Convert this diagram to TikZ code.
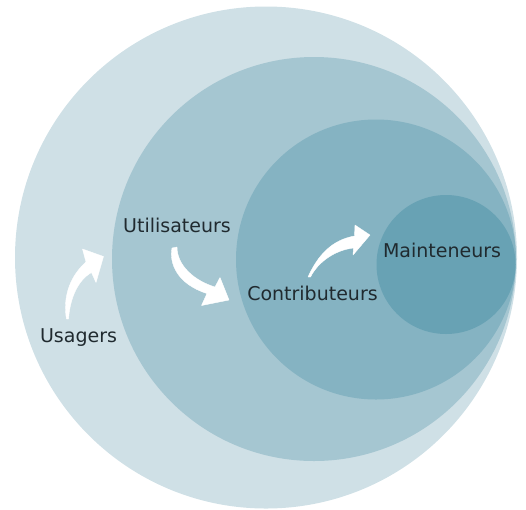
\documentclass[tikz,border=0pt]{standalone}
\usepackage{fontspec}
\setmainfont{DejaVu Sans}
\definecolor{cA}{RGB}{207,224,230}
\definecolor{cB}{RGB}{165,198,209}
\definecolor{cC}{RGB}{133,179,194}
\definecolor{cD}{RGB}{104,162,180}
\definecolor{txt}{RGB}{32,42,47}
\begin{document}
\begin{tikzpicture}[x=1pt,y=-1pt,
  lbl/.style={anchor=base,inner sep=0pt,text=txt,font=\fontsize{19}{23}\selectfont},
  curvedarrow/.style={fill=white,draw=white,line width=0.4pt,line join=round}]
\useasboundingbox (0,0) rectangle (526,509);
\fill[cA] (266,257.5) circle[radius=251];
\fill[cB] (314,259) circle[radius=202];
\fill[cC] (376,259.5) circle[radius=140];
\fill[cD] (446,264.5) circle[radius=69.5];
% arrows
\filldraw[curvedarrow] (66.5,319) .. controls (63,300) and (68,278) .. (86,262)
  -- (82.5,249) -- (103.5,256.5) -- (96,282.5) -- (91.5,272.5)
  .. controls (78,280) and (70,298) .. (68.5,319) -- cycle;
\filldraw[curvedarrow] (172,248) .. controls (169,263) and (177,284) .. (207,293.5)
  -- (201.5,305.5) -- (229,300) -- (220,277.5) -- (215,287)
  .. controls (195,281) and (177,266) .. (177,247) -- cycle;
\filldraw[curvedarrow] (308,277) .. controls (318,255) and (332,240) .. (354.5,236)
  -- (355,225) -- (370,235) -- (353,255) -- (353.5,248)
  .. controls (335,250) and (318,262) .. (310.5,277) -- cycle;
\node[lbl] (util) at (177,232) {Utilisateurs};
\node[lbl] (usag) at (78.5,342) {Usagers};
\node[lbl] (contrib) at (312.5,300) {Contributeurs};
\node[lbl] (maint) at (442,257) {Mainteneurs};
\end{tikzpicture}
\end{document}
